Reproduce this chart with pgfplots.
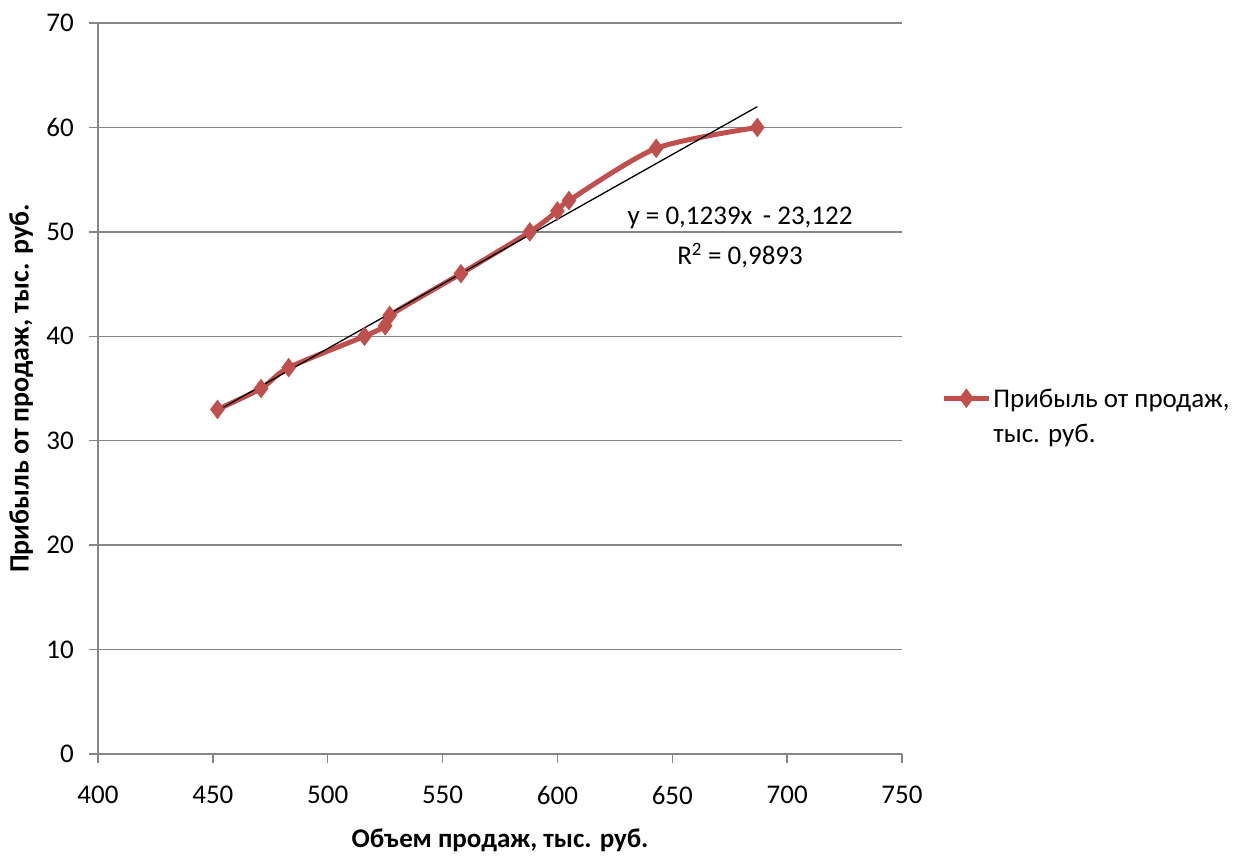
\documentclass[border=0pt]{standalone}
\usepackage{fontspec}
\setmainfont{Carlito}
\usepackage{pgfplots}
\pgfplotsset{compat=1.18}
\definecolor{exred}{RGB}{192,80,77}
\definecolor{gridgray}{RGB}{134,134,134}
\begin{document}
\fontsize{27}{33}\selectfont
\begin{tikzpicture}
\begin{axis}[
  scale only axis, width=804pt, height=731pt,
  xmin=400, xmax=750, ymin=0, ymax=70,
  xtick distance=50, ytick distance=10,
  axis x line=bottom, axis y line=left,
  axis line style={gridgray, line width=1.5pt, -},
  tick style={gridgray, line width=1.5pt},
  tick align=outside, major tick length=9pt,
  ymajorgrids, grid style={gridgray, line width=1.5pt},
  /pgf/number format/assume math mode=true,
  ticklabel style={font=\fontsize{27}{33}\selectfont},
  xticklabel style={yshift=-14pt},
  yticklabel style={xshift=-6pt},
  xlabel={\bfseries Объем продаж, тыс. руб.},
  ylabel={\bfseries Прибыль от продаж, тыс. руб.},
  xlabel style={font=\fontsize{27}{33}\selectfont, yshift=-6pt},
  ylabel style={font=\fontsize{28}{34}\selectfont, yshift=-5pt},
  legend style={draw=none, fill=none, at={(1.045,0.511)}, anchor=north west,
    nodes={font=\fontsize{27}{33}\selectfont}},
  legend image code/.code={
    \draw[line width=5pt] (0pt,0pt) -- (45pt,0pt);
    \draw[mark=diamond*, mark size=9pt, line width=1pt] plot coordinates {(22.5pt,0pt)};
  },
]
\addplot[color=exred, line width=5pt, smooth, tension=0.45,
  mark=diamond*, mark size=9pt, mark options={line width=1pt}]
  coordinates {(452,33) (471,35) (483,37) (516,40) (525,41) (527,42)
    (558,46) (588,50) (600,52) (605,53) (643,58) (687,60)};
\addlegendentry{\begin{tabular}[t]{@{}l@{}}Прибыль от продаж,\\[2pt]тыс. руб.\end{tabular}}
\addplot[black, line width=1.3pt, forget plot]
  coordinates {(452,32.88) (687,61.99)};
\node[align=center, font=\fontsize{27}{33}\selectfont, inner sep=0pt]
  at (axis cs:679.5,49.5) {y = 0,1239x\, - 23,122\\[7pt]R\textsuperscript{2} = 0,9893};
\coordinate (bl) at (rel axis cs:-0.1219,-0.1395);
\coordinate (tr) at (rel axis cs:1.4291,1.0315);
\end{axis}
\pgfresetboundingbox
\path[use as bounding box] (bl) rectangle (tr);
\end{tikzpicture}
\end{document}
